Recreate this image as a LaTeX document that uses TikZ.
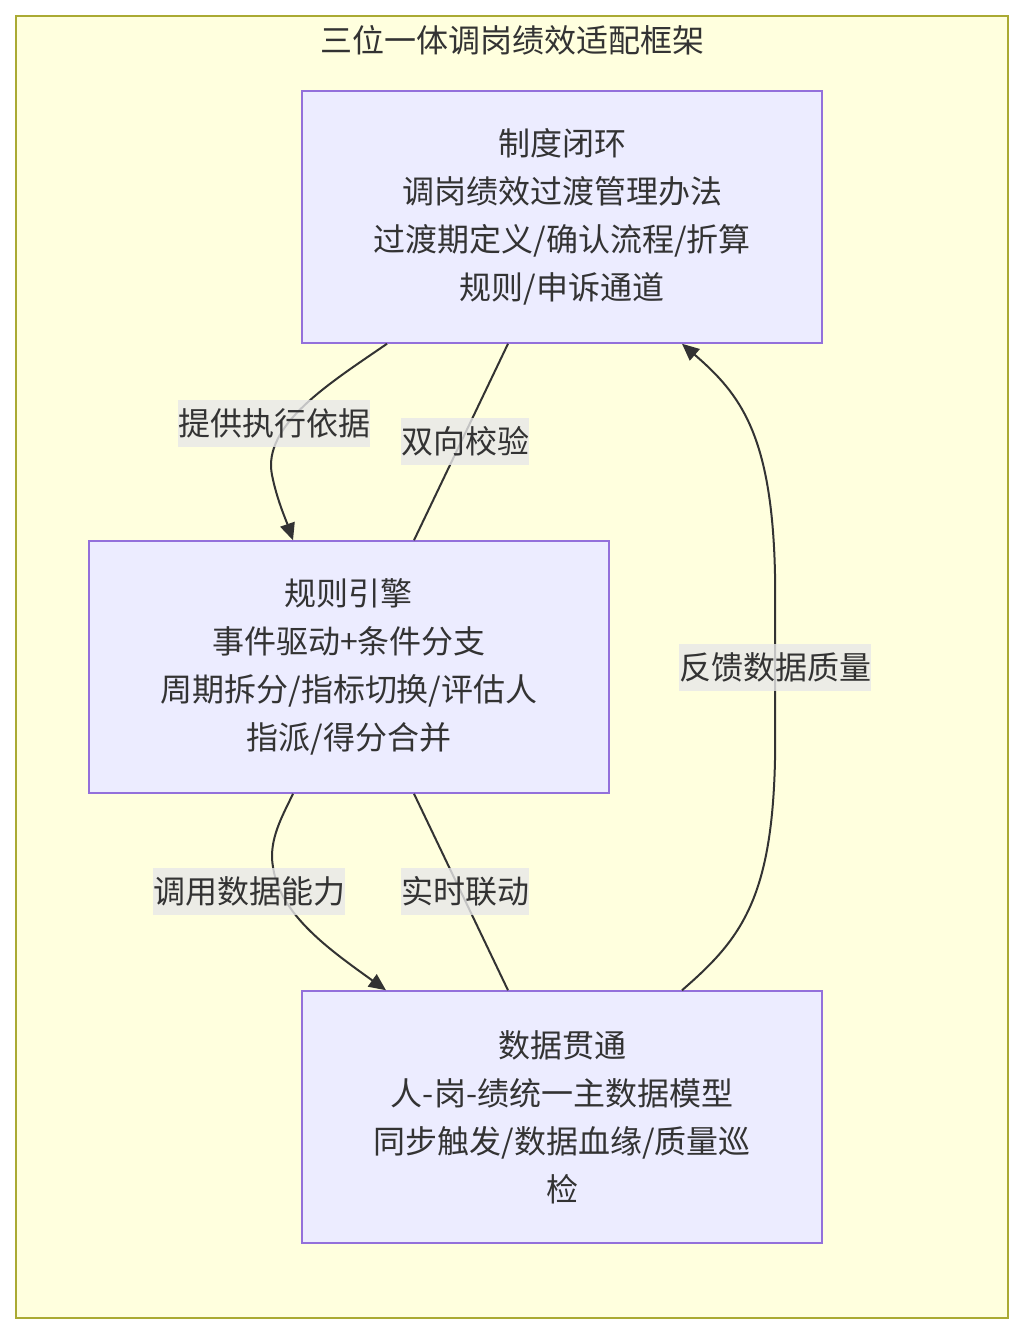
\documentclass[tikz,border=0pt]{standalone}
\usepackage{fontspec}
\newfontfamily\cjk{Noto Sans CJK SC}
\usetikzlibrary{arrows.meta, positioning, calc}
\definecolor{clusterfill}{HTML}{FFFFDE}
\definecolor{clusterline}{HTML}{AAAA33}
\definecolor{blockfill}{HTML}{ECECFF}
\definecolor{blockline}{HTML}{9370DB}
\definecolor{edgegray}{HTML}{333333}
\definecolor{tagfill}{HTML}{E8E8E8}
\definecolor{textgray}{HTML}{333333}
\tikzset{
    % yellow frame around the whole framework
    cluster/.style={draw=clusterline, fill=clusterfill, line width=0.6pt,
        minimum width=496pt, minimum height=651pt, inner sep=0pt},
    % frame caption
    caption/.style={font=\cjk\fontsize{16pt}{24pt}\selectfont, text=textgray, inner sep=0pt},
    % the three blocks of the framework
    block/.style={draw=blockline, fill=blockfill, line width=0.75pt,
        minimum width=260pt, minimum height=126pt, align=center,
        font=\cjk\fontsize{16pt}{24pt}\selectfont, text=textgray},
    % plain connector and directed connector
    link/.style={draw=edgegray, line width=1pt},
    flow/.style={link, -{Triangle[length=8.5pt, width=7.5pt]}},
    % labels on the connectors
    tag/.style={fill=tagfill, fill opacity=0.8, text opacity=1, inner xsep=0pt,
        inner ysep=0pt, minimum height=23.5pt,
        font=\cjk\fontsize{16pt}{24pt}\selectfont, text=textgray},
}

\begin{document}
\begin{tikzpicture}[x=0.5pt, y=-0.5pt]
    \useasboundingbox (0,0) rectangle (1024,1334);

    % ---- frame ----
    \node[cluster] (frame) at (512,667) {};
    \node[caption] (title) at (512,40) {三位一体调岗绩效适配框架};

    % ---- blocks ----
    \node[block] (rules) at (562,217) {制度闭环\\调岗绩效过渡管理办法\\过渡期定义/确认流程/折算\\规则/申诉通道};
    \node[block] (engine) at (349,667) {规则引擎\\事件驱动+条件分支\\周期拆分/指标切换/评估人\\指派/得分合并};
    \node[block] (data) at (562,1117) {数据贯通\\人-岗-绩统一主数据模型\\同步触发/数据血缘/质量巡\\检};

    % rules -> engine
    \draw[flow] ($(rules.south)+(-175,0)$) .. controls (330,383) and (262,425) .. (272,475)
        .. controls (277,500) and (286,520) .. ($(engine.north)+(-56,0)$);
    \draw[link] ($(rules.south)+(-54,0)$) -- ($(engine.north)+(65,0)$);

    % engine -> data
    \draw[flow] ($(engine.south)+(-56,0)$) .. controls (283,815) and (268,840) .. (273,867)
        .. controls (280,915) and (330,950) .. ($(data.north)+(-176,0)$);
    \draw[link] ($(engine.south)+(65,0)$) -- ($(data.north)+(-54,0)$);

    % data -> rules (feedback)
    \draw[flow] ($(data.north)+(120,0)$) .. controls (740,940) and (772,900) .. (775,760)
        -- (775,574) .. controls (772,434) and (740,394) .. ($(rules.south)+(120,0)$);

    % ---- connector labels ----
    \node[tag] (basis) at (274,423) {提供执行依据};
    \node[tag] (check) at (465,441) {双向校验};
    \node[tag] (call) at (249,891) {调用数据能力};
    \node[tag] (sync) at (465,891) {实时联动};
    \node[tag] (feedback) at (775,667) {反馈数据质量};

\end{tikzpicture}
\end{document}
